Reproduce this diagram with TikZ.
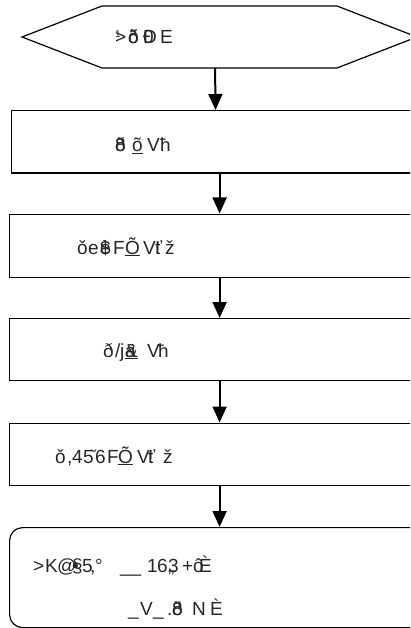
\documentclass[tikz,border=0pt]{standalone}
\usepackage{fontspec}
\setmainfont{Liberation Sans}
\usetikzlibrary{arrows.meta}
\newcommand{\gx}[2]{\makebox[#1pt][l]{#2}}
\begin{document}
\begin{tikzpicture}[x=1pt,y=-1pt,
  box/.style={draw,line width=1.2pt,inner sep=0pt,anchor=north west,minimum width=420pt},
  lbl/.style={anchor=base west,inner sep=0pt,font=\fontsize{19}{22}\selectfont,text=black!85},
  flow/.style={line width=2pt,-{Triangle[width=14pt,length=16pt]}}]
\useasboundingbox (0,0) rectangle (410,628);
\clip (0,0) rectangle (410,628);
% start hexagon
\draw[line width=1.2pt] (22,37) -- (102,6) -- (337,6) -- (417,37) -- (337,68) -- (102,68) -- cycle;
\coordinate (hexbot) at (215,68);
\node[lbl] (t0) at (115,44) {\gx{13}{\rlap{\raisebox{6pt}{\fontsize{10}{10}\selectfont 1}}>}\gx{15}{\rlap{õ}ð}\gx{17}{\rlap{Ð}0}E};
% boxes
\node[box,minimum width=408pt,minimum height=62.5pt] (b1) at (11,110) {};
\node[box,minimum height=63pt] (b2) at (9,213.5) {};
\node[box,minimum height=62pt] (b3) at (9,318) {};
\node[box,minimum height=62pt] (b4) at (9,422.5) {};
\node[box,minimum height=100pt,rounded corners=13pt] (b5) at (9,527) {};
% labels
\node[lbl] (t1) at (115,152) {\gx{17}{\rlap{ð}8}\gx{15}{\underline{õ}}\gx{13}{V}ħ};
\node[lbl] (t2) at (77,254) {\gx{11}{ǒ}\gx{12}{e}\gx{13}{\rlap{\$}è}\gx{12}{F}\gx{18}{\underline{Õ}}\gx{12}{V}\gx{10}{\rlap{!}ť}ž};
\node[lbl] (t3) at (103,357) {\gx{12}{ð}\gx{5}{/}\gx{5}{j}\gx{22}{\underline{\rlap{ä}\&}}\gx{11}{V}ħ};
\node[lbl] (t4) at (55,463) {\gx{12}{ǒ}\gx{5}{,}\gx{11}{4}\gx{12}{5̆}\gx{12}{6}\gx{11}{F}\gx{19}{\underline{Õ}}\gx{11}{V}\gx{15}{\rlap{!}ť}ž};
\node[lbl] (t5a) at (33,572) {\gx{12}{>}\gx{12}{K}\gx{15}{@}\gx{10}{\rlap{•}§}\gx{8}{5}\gx{5}{,}\gx{25}{°}\gx{27}{\_\_}\gx{10}{1}\gx{11}{6}\gx{14}{\rlap{„}3}\gx{11}{+}\rlap{ô}\hspace{6pt}È};
\node[lbl] (t5b) at (128,615) {\gx{12}{\_}\gx{13}{V}\gx{14}{\_}\gx{5}{.}\gx{20}{\rlap{8}ð}\gx{18}{N}È};
% connectors
\draw[flow] (hexbot) -- (b1.north);
\draw[flow] (b2.north |- b1.south) -- (b2.north);
\draw[flow] (b2.south) -- (b3.north);
\draw[flow] (b3.south) -- (b4.north);
\draw[flow] (b4.south) -- (b5.north);
\end{tikzpicture}
\end{document}
